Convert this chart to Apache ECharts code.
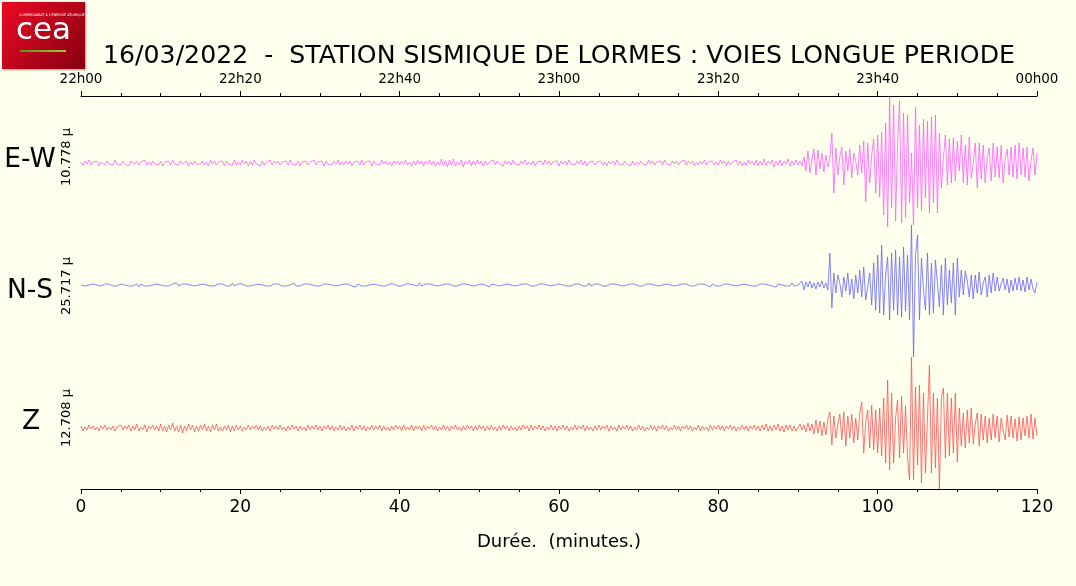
<!DOCTYPE html>
<html>
<head>
<meta charset="utf-8">
<script src="https://cdn.jsdelivr.net/npm/echarts@6/dist/echarts.min.js"></script>
<style>
html,body{margin:0;padding:0;background:#ffffee;}
#chart{width:1076px;height:586px;}
</style>
</head>
<body>
<div id="chart"></div>
<script>
// time step of the samples (minutes)
const STEP = 0.25;
// top-axis tick labels (clock time), bottom ticks are minutes
const clockLabels = ['22h00','22h20','22h40','23h00','23h20','23h40','00h00'];
const traceNames = ['E-W','N-S','Z'];
const traceScales = ['10.778 µ','25.717 µ','12.708 µ'];

// E-W trace: 0..89.75 min (quiet) then 90..120 min (event)
const ewQuiet = [
1,-2,2,-1,3,-2,1,-1,2,-3,1,0,-2,2,-1,1,-2,3,-1,1,
-2,2,-1,1,-3,2,0,-1,2,-2,1,-1,3,-2,1,-2,2,-1,1,-2,
2,-3,1,-1,2,-2,3,-1,1,-2,2,-1,0,2,-3,1,-2,2,-1,1,
-1,2,-2,1,-3,3,-1,2,-2,1,-1,2,-3,2,-1,1,-2,3,-2,1,
-2,3,-1,2,-3,2,-2,3,-1,1,-3,2,-2,1,-1,3,-2,2,-1,2,
-2,1,-1,2,-2,3,-1,1,-2,2,-3,1,-1,2,-2,1,-1,3,-2,1,
-1,2,-3,2,-1,1,-2,2,-1,3,-2,1,-2,2,-1,2,-3,1,-1,2,
-2,3,-2,1,-1,2,-3,2,-1,1,-2,3,-1,2,-2,1,-3,2,-1,2,
-2,2,-1,3,-2,1,-3,2,-2,3,-1,2,-3,2,-1,3,-2,2,-3,1,
-2,4,-3,2,-4,3,-2,4,-3,1,-2,3,-4,2,-1,3,-3,2,-2,3,
-1,2,-3,2,-2,1,-1,3,-2,2,-1,1,-3,2,-1,2,-2,3,-1,1,
-2,2,-1,3,-2,1,-2,2,-3,1,-1,2,-2,3,-1,2,-2,1,-1,2,
-3,2,-1,2,-2,3,-1,1,-2,2,-1,3,-2,2,-3,1,-1,2,-2,1,
-1,2,-2,1,-3,2,-1,2,-2,3,-1,1,-2,2,-1,1,-3,2,-2,1,
-2,2,-1,1,-2,3,-1,2,-2,1,-1,2,-2,3,-1,1,-2,2,-1,2,
-2,1,-1,3,-2,2,-1,2,-3,1,-2,2,-1,3,-2,1,-1,2,-2,1,
-2,3,-1,2,-3,2,-2,1,-1,3,-2,2,-3,1,-2,3,-1,2,-2,3,
-3,2,-2,4,-3,2,-1,3,-4,2,-2,3,-3,2,-1,4,-3,2,-2,3
];
const ewEvent = [
-2,2,-3,6, -8,12,-10,4, 14,-12,13,-6, 10,-9,8,-4,
5,30,-30,15, -12,6,16,-22, 12,-8,14,-15, 10,2,-12,18,
-10,22,-39,20, -20,8,24,-30, 28,-34,31,-52, 40,-64,66,-45,
58,-58,20,62, -60,50,-55,48, -40,10,-62,56, -45,38,-48,44,
-35,42,-50,46, -40,48,-50,30, -25,5,28,-22, 24,-20,25,-18,
22,-8,28,-20, 18,-22,26,-15, 0,20,-25,20, -16,18,-20,6,
15,-18,20,-14, 16,-15,18,-20, 4,14,-12,16, -14,18,-16,20,
-12,15,-14,16, -18,2,15,-12, 10
];

// N-S trace
const nsQuiet = [
0,1,-1,1,0,-1,1,-1,0,1,-1,0,1,-1,1,0,-1,1,-1,0,
1,-1,0,1,-1,1,-1,0,1,-2,1,0,-1,1,-1,1,0,-1,1,-1,
0,1,-1,1,-1,0,1,-1,2,-1,0,1,-1,1,-1,0,1,-1,1,0,
-1,1,-1,0,1,-1,1,-1,0,1,-1,1,0,-1,1,-1,2,-1,0,1,
-1,1,0,-1,1,-1,1,0,-1,1,-1,0,1,-1,1,-1,0,1,-1,1,
0,-1,1,-1,1,0,-1,2,-1,1,-1,0,1,-1,1,-1,0,1,-1,1,
-1,0,1,-1,1,-1,0,1,-1,1,0,-1,1,-1,1,0,-1,1,-2,1,
0,-1,1,-1,1,0,-1,1,-1,0,1,-1,1,-1,0,1,-1,1,0,-1,
1,-1,0,1,-1,1,-1,0,1,-1,2,-1,0,1,-1,1,-1,0,1,-1,
1,0,-1,1,-1,1,0,-1,1,-1,0,1,-1,1,-1,0,1,-1,1,0,
-1,1,-1,0,1,-2,1,-1,0,1,-1,1,0,-1,1,-1,0,1,-1,1,
0,-1,1,-1,1,0,-1,1,-1,0,1,-1,1,-1,0,1,-1,1,0,-1,
1,-1,0,1,-1,1,-1,0,1,-1,1,0,-1,1,-1,2,-1,0,1,-1,
1,0,-1,1,-1,0,1,-1,1,-1,0,1,-1,1,0,-1,1,-1,1,0,
-1,1,-1,0,1,-1,1,-1,0,1,-1,1,0,-1,1,-1,0,1,-1,1,
0,-1,1,-1,1,0,-1,1,-1,0,1,-1,1,-1,0,1,-2,1,0,-1,
1,-1,0,1,-1,1,-1,0,1,-1,1,0,-1,1,-1,0,1,-1,1,-1,
0,1,-1,1,-1,0,1,-1,1,-2,1,-1,0,1,-1,1,-1,2,-1,1
];
const nsEvent = [
0,-1,4,-5, 3,-2,4,-3, 2,-4,3,-2, 4,-3,2,-5,
32,-23,12,-8, 10,2,-12,8, -6,12,-10,6, -14,10,-8,15,
-12,18,-15,-2, 12,-20,22,-25, 30,-28,40,-30, 10,28,-35,32,
-25,35,-30,28, -32,38,-26,30, -35,60,-72,30, 50,-35,27,-5,
-25,32,-30,22, -28,25,2,-22, 20,-30,27,-20, 15,-18,22,-30,
27,-12,15,-10, 14,4,-12,10, -14,10,-8,13, -10,2,8,-12,
10,-8,12,-6, 8,-6,1,7, -5,6,-8,5, -6,7,-5,8,
-6,5,-7,8, -5,6,-4,-8, 3
];

// Z trace
const zQuiet = [
2,-3,1,-2,3,-1,2,-2,1,-3,2,-1,3,-2,1,-2,2,-3,1,-1,
3,-2,2,-1,3,-3,2,-2,4,-3,1,-2,3,-4,2,-1,3,-2,2,-3,
4,-3,2,-4,3,-2,5,-3,2,-4,3,-5,2,-3,4,-2,3,-4,2,-3,
3,-2,4,-3,2,-4,3,-2,4,-3,1,-3,2,-2,3,-4,2,-3,3,-2,
2,-3,1,-2,3,-2,2,-1,3,-2,2,-3,1,-2,2,-3,3,-1,2,-2,
3,-2,1,-3,2,-2,3,-1,2,-3,2,-2,1,-3,3,-2,2,-1,3,-2,
2,-3,2,-1,3,-2,2,-3,1,-2,3,-2,2,-3,1,-2,3,-3,2,-1,
3,-2,2,-3,1,-2,3,-2,2,-1,3,-3,2,-2,1,-3,2,-2,3,-1,
2,-3,3,-2,1,-2,3,-3,2,-1,2,-3,3,-2,2,-1,3,-2,2,-3,
1,-2,3,-2,2,-3,2,-1,3,-2,1,-3,2,-2,3,-1,2,-3,2,-2,
3,-1,2,-3,2,-2,3,-2,1,-3,2,-2,3,-1,2,-3,2,-2,1,-3,
2,-2,3,-1,2,-3,3,-2,2,-1,3,-2,2,-3,1,-2,3,-2,2,-3,
2,-1,3,-2,2,-3,1,-2,3,-2,2,-1,3,-3,2,-2,1,-3,2,-2,
3,-2,2,-1,3,-3,2,-2,1,-3,3,-2,2,-1,3,-2,2,-3,1,-2,
3,-2,2,-3,1,-2,3,-2,2,-3,2,-1,3,-2,2,-3,1,-2,3,-2,
2,-3,2,-1,3,-2,2,-3,1,-2,3,-3,2,-2,1,-3,3,-2,2,-1,
3,-2,2,-3,2,-1,3,-2,2,-3,1,-2,3,-2,2,-3,2,-1,3,-2,
2,-3,3,-2,4,-3,2,-3,3,-2,4,-3,2,-4,3,-2,3,-3,2,-3
];
const zEvent = [
-3,4,-2,3, -4,5,-3,4, -6,8,-5,7, -8,6,-7,9,
16,-17,12,-10, 4,14,-12,16, -18,12,-10,14, -15,10,-12,15,
26,-25,6,18, -20,23,-22,18, -25,20,-28,30, -35,48,-42,35,
-35,10,28,-30, 32,-25,22,-30, -52,71,-52,41, -37,43,-55,35,
-45,10,63,-45, 35,-40,30,-61, 30,40,-30,35, -28,30,-25,35,
-34,20,-18,15, -20,18,-15,20, -16,4,15,-18, 14,-12,12,-15,
10,-12,14,-10, 12,-14,10,-2, -12,13,-9,12, -10,9,-13,11,
-12,10,-8,12, -10,14,-11,10, -8
];

const ew = ewQuiet.concat(ewEvent);
const ns = nsQuiet.concat(nsEvent);
const zz = zQuiet.concat(zEvent);
const toPairs = arr => arr.map((v, i) => [i * STEP, v]);

const FONT = 'DejaVu Sans';
const chart = echarts.init(document.getElementById('chart'), null, {renderer: 'canvas'});

// each trace gets its own hidden y axis so that its baseline sits in its band
const yAx = (min, max) => ({type: 'value', min: min, max: max, show: false});

const axisCommon = {
  type: 'value', min: 0, max: 120, interval: 20,
  axisLine: {show: true, onZero: false, lineStyle: {color: '#000', width: 1}},
  axisTick: {show: true, length: 5, lineStyle: {color: '#000'}},
  minorTick: {show: true, splitNumber: 4, length: 3, lineStyle: {color: '#000'}},
  splitLine: {show: false},
  minorSplitLine: {show: false}
};

chart.setOption({
  backgroundColor: '#ffffee',
  animation: false,
  textStyle: {fontFamily: FONT},
  title: {
    text: '16/03/2022  -  STATION SISMIQUE DE LORMES : VOIES LONGUE PERIODE',
    left: 554, top: 39, textAlign: 'center',
    textStyle: {fontFamily: FONT, fontSize: 25.2, fontWeight: 'normal', color: '#000'}
  },
  grid: {left: 81, right: 39, top: 96, bottom: 97},
  xAxis: [
    Object.assign({}, axisCommon, {
      position: 'bottom',
      axisLabel: {color: '#000', fontSize: 17, fontFamily: FONT, margin: 10},
      name: 'Durée.  (minutes.)', nameLocation: 'middle', nameGap: 44,
      nameTextStyle: {color: '#000', fontSize: 18, fontFamily: FONT}
    }),
    Object.assign({}, axisCommon, {
      position: 'top',
      axisLabel: {color: '#000', fontSize: 13.5, fontFamily: FONT, margin: 10,
        formatter: v => clockLabels[Math.round(v / 20)]}
    })
  ],
  yAxis: [yAx(-326, 67), yAx(-204, 189), yAx(-61, 332)],
  series: [
    {name: traceNames[0], type: 'line', xAxisIndex: 0, yAxisIndex: 0, data: toPairs(ew),
      showSymbol: false, clip: true, lineStyle: {color: '#ff5cff', width: 0.8}},
    {name: traceNames[1], type: 'line', xAxisIndex: 0, yAxisIndex: 1, data: toPairs(ns),
      showSymbol: false, clip: true, lineStyle: {color: '#6464ff', width: 0.8}},
    {name: traceNames[2], type: 'line', xAxisIndex: 0, yAxisIndex: 2, data: toPairs(zz),
      showSymbol: false, clip: true, lineStyle: {color: '#ff5050', width: 0.8}}
  ],
  graphic: [
    // logo
    {type: 'rect', left: 2, top: 2, shape: {width: 83, height: 67},
      style: {fill: new echarts.graphic.LinearGradient(0, 0, 1, 1, [
        {offset: 0, color: '#ec0a24'}, {offset: 1, color: '#860010'}]),
        shadowBlur: 2, shadowColor: 'rgba(0,0,0,0.4)', shadowOffsetX: 1, shadowOffsetY: 1}},
    {type: 'text', left: 19, top: 14, style: {text: 'COMMISSARIAT À L\u2019ÉNERGIE ATOMIQUE', fill: '#ffffff', fontSize: 3.3, fontFamily: FONT}},
    {type: 'text', left: 16, top: 15, style: {text: 'cea', fill: '#ffffff', fontSize: 31, fontFamily: FONT, fontWeight: 'normal'}},
    {type: 'rect', left: 20, top: 50, shape: {width: 46, height: 2},
      style: {fill: new echarts.graphic.LinearGradient(0, 0, 1, 0, [
        {offset: 0, color: '#5a8f1e'}, {offset: 1, color: '#a8c83a'}])}},
    // trace labels
    {type: 'text', x: 30, y: 160, style: {text: traceNames[0], fill: '#000', fontSize: 26.5, fontFamily: FONT, align: 'center', verticalAlign: 'middle'}},
    {type: 'text', x: 30, y: 291, style: {text: traceNames[1], fill: '#000', fontSize: 26.5, fontFamily: FONT, align: 'center', verticalAlign: 'middle'}},
    {type: 'text', x: 31, y: 422, style: {text: traceNames[2], fill: '#000', fontSize: 26.5, fontFamily: FONT, align: 'center', verticalAlign: 'middle'}},
    {type: 'text', x: 67, y: 157, rotation: Math.PI / 2, style: {text: traceScales[0], fill: '#000', fontSize: 13, fontFamily: FONT, align: 'center', verticalAlign: 'middle'}},
    {type: 'text', x: 67, y: 286, rotation: Math.PI / 2, style: {text: traceScales[1], fill: '#000', fontSize: 13, fontFamily: FONT, align: 'center', verticalAlign: 'middle'}},
    {type: 'text', x: 67, y: 418, rotation: Math.PI / 2, style: {text: traceScales[2], fill: '#000', fontSize: 13, fontFamily: FONT, align: 'center', verticalAlign: 'middle'}}
  ]
});
</script>
</body>
</html>
